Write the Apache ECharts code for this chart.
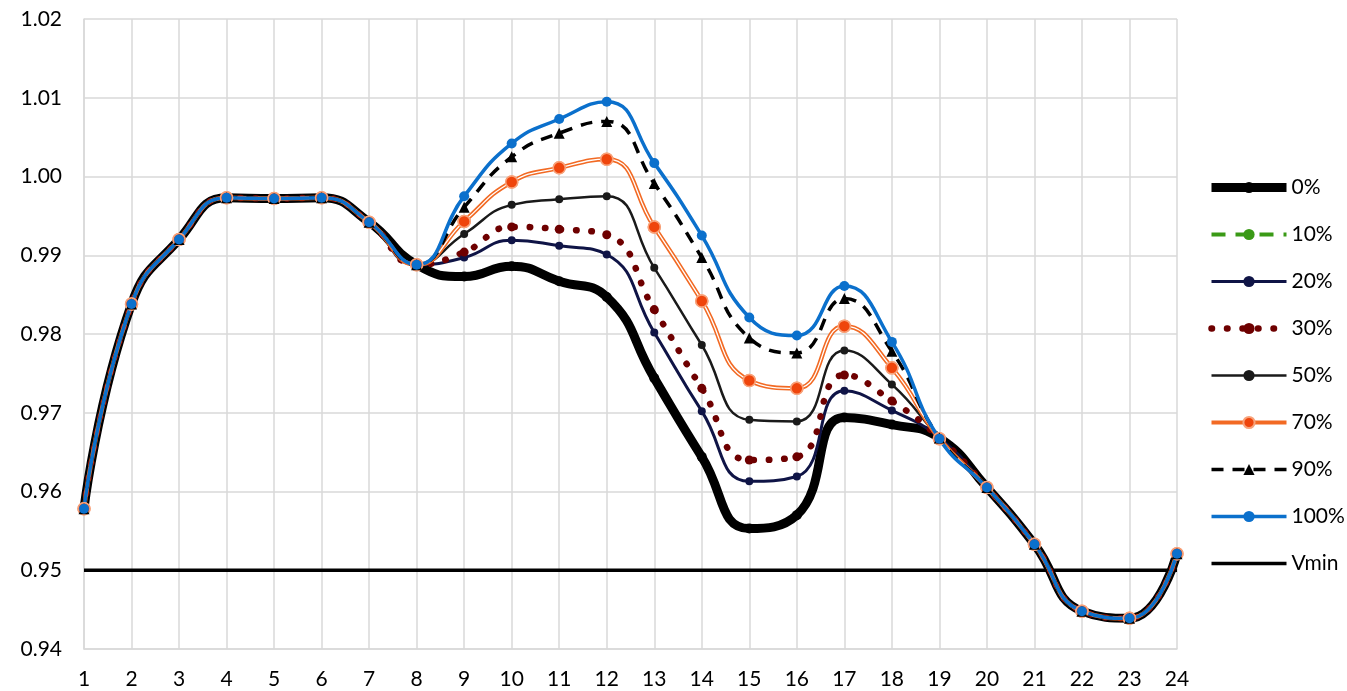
<!DOCTYPE html>
<html>
<head>
<meta charset="utf-8">
<script src="https://cdn.jsdelivr.net/npm/echarts@6/dist/echarts.min.js"></script>
<style>
  html, body { margin: 0; padding: 0; background: #fff; }
  #chart { width: 1347px; height: 691px; }
</style>
</head>
<body>
<div id="chart"></div>
<script>
// hours of the day
const hours = ['1','2','3','4','5','6','7','8','9','10','11','12','13','14','15','16','17','18','19','20','21','22','23','24']

// voltage (p.u.) for each penetration level
const pen0   = [0.9578,0.9838,0.9920,0.9973,0.9972,0.9973,0.9942,0.9888,0.9873,0.9886,0.9867,0.9847,0.9744,0.9644,0.9553,0.9570,0.9694,0.9685,0.9668,0.9605,0.9533,0.9448,0.9439,0.9521]
const pen10  = []
const pen20  = [0.9578,0.9838,0.9920,0.9973,0.9972,0.9973,0.9942,0.9888,0.9897,0.9919,0.9912,0.9901,0.9802,0.9702,0.9613,0.9619,0.9728,0.9703,0.9668,0.9605,0.9533,0.9448,0.9439,0.9521]
const pen30  = [0.9578,0.9838,0.9920,0.9973,0.9972,0.9973,0.9942,0.9888,0.9904,0.9936,0.9933,0.9926,0.9831,0.9731,0.9640,0.9644,0.9748,0.9715,0.9668,0.9605,0.9533,0.9448,0.9439,0.9521]
const pen50  = [0.9578,0.9838,0.9920,0.9973,0.9972,0.9973,0.9942,0.9888,0.9927,0.9964,0.9971,0.9975,0.9884,0.9786,0.9691,0.9689,0.9779,0.9736,0.9668,0.9605,0.9533,0.9448,0.9439,0.9521]
const pen70  = [0.9578,0.9838,0.9920,0.9973,0.9972,0.9973,0.9942,0.9888,0.9943,0.9993,1.0011,1.0022,0.9936,0.9842,0.9741,0.9731,0.9810,0.9757,0.9667,0.9605,0.9533,0.9448,0.9439,0.9521]
const pen90  = [0.9578,0.9838,0.9920,0.9973,0.9972,0.9973,0.9942,0.9888,0.9961,1.0025,1.0055,1.0070,0.9991,0.9897,0.9795,0.9776,0.9845,0.9778,0.9668,0.9605,0.9533,0.9448,0.9439,0.9521]
const pen100 = [0.9578,0.9838,0.9920,0.9973,0.9972,0.9973,0.9942,0.9888,0.9975,1.0042,1.0073,1.0095,1.0017,0.9925,0.9821,0.9798,0.9861,0.9790,0.9667,0.9605,0.9533,0.9448,0.9439,0.9521]
const vmin   = [0.95,0.95,0.95,0.95,0.95,0.95,0.95,0.95,0.95,0.95,0.95,0.95,0.95,0.95,0.95,0.95,0.95,0.95,0.95,0.95,0.95,0.95,0.95,0.95]

const font = 'Lato, "Liberation Sans", sans-serif'
const SMOOTH = 0.5

let mychart = echarts.init(document.getElementById('chart'))
mychart.setOption({
  animation: false,
  textStyle: { fontFamily: font },
  grid: {
    top: 19,
    left: 84,
    right: 170,
    bottom: 42,
  },
  legend: {
    data: [
      { name: '0%', lineStyle: { width: 9, cap: 'butt' } },
      { name: '10%', lineStyle: { width: 4, cap: 'butt' } },
      { name: '20%', lineStyle: { width: 3 } },
      { name: '30%', lineStyle: { width: 6.5 } },
      { name: '50%', lineStyle: { width: 2.5 } },
      { name: '70%', lineStyle: { width: 4 } },
      { name: '90%', lineStyle: { width: 3.5 } },
      { name: '100%', lineStyle: { width: 3.5 } },
      { name: 'Vmin', lineStyle: { width: 3.5 }, itemStyle: { opacity: 0 } },
    ],
    orient: 'vertical',
    left: 1202,
    top: 172,
    itemWidth: 75,
    itemHeight: 14,
    itemGap: 26,
    textStyle: { fontSize: 21, color: '#000', fontFamily: font },
  },
  xAxis: {
    type: 'category',
    boundaryGap: false,
    data: hours,
    axisLine: { lineStyle: { color: '#d9d9d9', width: 1.5 } },
    axisTick: { show: false },
    axisLabel: { color: '#000', fontSize: 21, margin: 20, interval: 0 },
    splitLine: { show: true, lineStyle: { color: '#d9d9d9', width: 1.5 } },
  },
  yAxis: {
    type: 'value',
    min: 0.94,
    max: 1.02,
    interval: 0.01,
    axisLine: { show: true, lineStyle: { color: '#d9d9d9', width: 1.5 } },
    axisTick: { show: false },
    axisLabel: {
      color: '#000',
      fontSize: 21,
      margin: 22,
      formatter: (v) => v.toFixed(2),
    },
    splitLine: { lineStyle: { color: '#d9d9d9', width: 1.5 } },
  },
  series: [
    {
      name: 'Vmin',
      type: 'line',
      data: vmin,
      symbol: 'none',
      z: 1,
      lineStyle: { color: '#000', width: 3.5 },
      itemStyle: { color: '#000' },
    },
    {
      name: '0%',
      type: 'line',
      data: pen0,
      smooth: SMOOTH,
      symbol: 'circle',
      symbolSize: 10,
      lineStyle: { color: '#000', width: 9, cap: 'round' },
      itemStyle: { color: '#000' },
    },
    {
      name: '10%',
      type: 'line',
      data: pen10,
      smooth: SMOOTH,
      symbol: 'circle',
      symbolSize: 9,
      lineStyle: { color: '#3a9a16', width: 4, type: [14, 10] },
      itemStyle: { color: '#3a9a16' },
    },
    {
      name: '20%',
      type: 'line',
      data: pen20,
      smooth: SMOOTH,
      symbol: 'circle',
      symbolSize: 8,
      lineStyle: { color: '#0f1446', width: 3 },
      itemStyle: { color: '#0f1446' },
    },
    {
      name: '30%',
      type: 'line',
      data: pen30,
      smooth: SMOOTH,
      symbol: 'circle',
      symbolSize: 9,
      lineStyle: { color: '#6e0000', width: 6.5, type: [0.5, 15], cap: 'round' },
      itemStyle: { color: '#6e0000' },
    },
    {
      name: '50%',
      type: 'line',
      data: pen50,
      smooth: SMOOTH,
      symbol: 'circle',
      symbolSize: 8,
      lineStyle: { color: '#1a1a1a', width: 2.5 },
      itemStyle: { color: '#1a1a1a' },
    },
    {
      name: '70%',
      type: 'line',
      data: pen70,
      smooth: SMOOTH,
      symbol: 'circle',
      symbolSize: 12,
      lineStyle: { color: '#f26a24', width: 4.5 },
      itemStyle: { color: '#ef450c', borderColor: '#f8a27a', borderWidth: 1.5 },
    },
    {
      // white core of the double line
      name: '70% core',
      type: 'line',
      data: pen70,
      smooth: SMOOTH,
      silent: true,
      symbol: 'circle',
      symbolSize: 12,
      lineStyle: { color: '#fff', width: 1.3 },
      itemStyle: { color: '#ef450c', borderColor: '#f8a27a', borderWidth: 1.5 },
    },
    {
      name: '90%',
      type: 'line',
      data: pen90,
      smooth: SMOOTH,
      symbol: 'triangle',
      symbolSize: 11,
      lineStyle: { color: '#000', width: 3.5, type: [12, 9] },
      itemStyle: { color: '#000' },
    },
    {
      name: '100%',
      type: 'line',
      data: pen100,
      smooth: SMOOTH,
      symbol: 'circle',
      symbolSize: 10,
      lineStyle: { color: '#0b70cc', width: 3.5 },
      itemStyle: { color: '#0b70cc' },
    },
  ],
})
</script>
</body>
</html>
